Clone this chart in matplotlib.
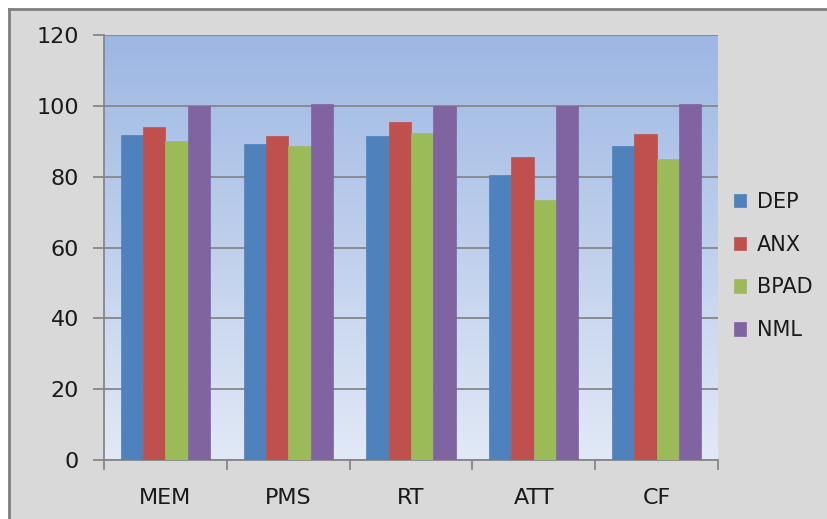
import numpy as np
import matplotlib
matplotlib.use('Agg')
import matplotlib.pyplot as plt
from matplotlib.patches import Rectangle

plt.rcParams['font.family'] = ['DejaVu Sans']

categories = ['MEM', 'PMS', 'RT', 'ATT', 'CF']
series_names = ['DEP', 'ANX', 'BPAD', 'NML']
dep = [91.8, 89.2, 91.5, 80.4, 88.6]
anx = [93.9, 91.5, 95.3, 85.5, 92.1]
bpad = [90.2, 88.6, 92.4, 73.4, 84.9]
nml = [100.0, 100.4, 100.0, 100.0, 100.4]
colors = ['#4f81bd', '#c0504d', '#9bbb59', '#8064a2']

W, H = 828, 519
fig = plt.figure(figsize=(W / 100, H / 100), dpi=100)
fig.patch.set_facecolor('white')

# chart area: grey panel with a darker edge on top and left
fig.add_artist(Rectangle((9 / W, -1), 2, 2 - 9 / H, transform=fig.transFigure,
                         facecolor='#d9d9d9', edgecolor='none', zorder=-10))
fig.add_artist(plt.Line2D([9 / W, 1.1], [1 - 9 / H, 1 - 9 / H], color='#7f7f7f', lw=2,
                          transform=fig.transFigure, zorder=-9))
fig.add_artist(plt.Line2D([9 / W, 9 / W], [-0.1, 1 - 9 / H], color='#7f7f7f', lw=2,
                          transform=fig.transFigure, zorder=-9))

left, right, top, bottom = 104, 718, 35, 460
ax = fig.add_axes([left / W, 1 - bottom / H, (right - left) / W, (bottom - top) / H])
ax.set_facecolor('none')

# vertical gradient fill of the plot area
grad = np.linspace(0, 1, 256).reshape(-1, 1)
top_c = np.array([0x9d, 0xb7, 0xe3]) / 255
bot_c = np.array([0xe2, 0xe9, 0xf6]) / 255
img = bot_c[None, None, :] * (1 - grad[:, :, None]) + top_c[None, None, :] * grad[:, :, None]
ax.imshow(img, extent=[0, 1, 0, 1], transform=ax.transAxes, origin='lower',
          aspect='auto', zorder=0)

n = len(series_names)
bw = 1 / (n + 1.5)
x = np.arange(len(categories))
for i, (name, vals) in enumerate(zip(series_names, [dep, anx, bpad, nml])):
    offs = (i - (n - 1) / 2) * bw
    ax.bar(x + offs, vals, width=bw, color=colors[i], label=name, zorder=3,
           edgecolor=colors[i], linewidth=0.5)

ax.set_xlim(-0.5, len(categories) - 0.5)
ax.set_ylim(0, 120)
ax.set_yticks(range(0, 121, 20))
ax.yaxis.grid(True, color='#868686', lw=1.3, zorder=1)
ax.set_axisbelow(False)

ax.set_xticks(np.arange(-0.5, len(categories)), minor=False)
ax.set_xticklabels([])
ax.set_xticks(x, minor=True)
ax.set_xticklabels(categories, minor=True, fontsize=16)
ax.tick_params(axis='x', which='minor', length=0, pad=20)
ax.tick_params(axis='x', which='major', length=7, color='#868686', width=1.3)
ax.tick_params(axis='y', length=8, color='#868686', width=1.3, labelsize=16, pad=10)
for lbl in ax.get_xticklabels(minor=True) + ax.get_yticklabels():
    lbl.set_color('#1a1a1a')

for s in ['top', 'right']:
    ax.spines[s].set_visible(False)
for s in ['left', 'bottom']:
    ax.spines[s].set_color('#868686')
    ax.spines[s].set_linewidth(1.3)

leg = fig.legend(*ax.get_legend_handles_labels(), loc='center left',
                 bbox_to_anchor=(734 / W, 1 - 266 / H), frameon=False,
                 fontsize=15, handlelength=0.6, handleheight=0.6, handletextpad=0.5,
                 labelspacing=1.1, borderpad=0, borderaxespad=0)
for t in leg.get_texts():
    t.set_color('#1a1a1a')

fig.savefig('out.png', dpi=100)
